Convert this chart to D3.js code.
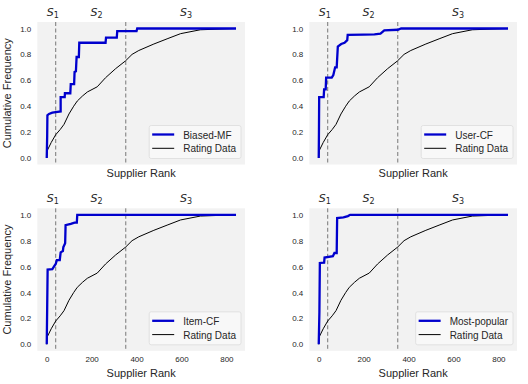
<!DOCTYPE html>
<html lang="en">
<head>
<meta charset="UTF-8">
<title>Supplier rank CDF</title>
<script src="https://d3js.org/d3.v7.min.js"></script>
<style>
  body { margin: 0; background: #fff; }
  svg { display: block; font-family: "Liberation Sans", Arial, sans-serif; }
</style>
</head>
<body>
<svg id="chart" width="528" height="384"></svg>
<script>
// rating data cdf (same in every panel)
var ratingData = [[0,0],[3,0.06],[20,0.12],[40,0.18],[60,0.22],[77,0.26],[99,0.34],[120,0.4],[136,0.44],
  [160,0.48],[181,0.51],[225,0.55],[262,0.62],[307,0.69],[351,0.75],[380,0.8],[410,0.83],[477,0.88],
  [536,0.92],[596,0.96],[684,0.99],[843,1.0]]

var biasedMF = [[0,0],[2,0.17],[3,0.33],[10,0.34],[25,0.35],[40,0.355],[62,0.36],[62,0.47],[80,0.47],
  [81,0.5],[105,0.5],[107,0.57],[122,0.57],[124,0.665],[130,0.67],[133,0.78],[143,0.78],[145,0.89],
  [262,0.89],[264,0.93],[312,0.93],[314,0.98],[400,0.98],[403,1.0],[843,1.0]]

var userCF = [[0,0],[1,0.2],[2,0.47],[22,0.47],[24,0.53],[31,0.53],[33,0.62],[58,0.62],[65,0.64],
  [73,0.7],[80,0.7],[85,0.86],[100,0.88],[115,0.89],[127,0.91],[129,0.95],[200,0.952],[248,0.955],
  [275,0.96],[292,0.985],[352,0.99],[367,1.0],[843,1.0]]

var itemCF = [[0,0],[2,0.28],[4,0.577],[25,0.58],[32,0.6],[40,0.62],[45,0.65],[58,0.65],[62,0.71],
  [72,0.72],[74,0.75],[82,0.78],[84,0.92],[107,0.93],[124,0.94],[134,0.94],[136,1.0],[843,1.0]]

var mostPopular = [[0,0],[3,0.25],[5,0.628],[24,0.63],[26,0.67],[63,0.68],[70,0.705],[80,0.705],
  [82,0.975],[110,0.98],[130,0.99],[140,1.0],[843,1.0]]

var panels = [
  {name: "Biased-MF", data: biasedMF, left: true, bottom: false},
  {name: "User-CF", data: userCF, left: false, bottom: false},
  {name: "Item-CF", data: itemCF, left: true, bottom: true},
  {name: "Most-popular", data: mostPopular, left: false, bottom: true}
]
var yTicks = [0, 0.2, 0.4, 0.6, 0.8, 1.0]
var xTicks = [0, 200, 400, 600, 800]
var segBounds = [40, 352]
var segLabels = [{x: 27, n: "1"}, {x: 222, n: "2"}, {x: 620, n: "3"}]

var W = 207.7, H = 142.5
var origins = [[37.3, 22], [309.3, 22], [37.3, 208.3], [309.3, 208.3]]
var textCol = "#262626"

var x = d3.scaleLinear().domain([-42, 883]).range([0, W])
var y = d3.scaleLinear().domain([-0.05, 1.05]).range([H, 0])
var line = d3.line().x(d => x(d[0])).y(d => y(d[1]))

var svg = d3.select("#chart")

panels.forEach(function(p, i) {
  var g = svg.append("g").attr("transform", `translate(${origins[i][0]},${origins[i][1]})`)
  g.append("rect").attr("width", W).attr("height", H).attr("fill", "#f2f2f2")

  // y axis
  var ya = g.append("g").call(d3.axisLeft(y).tickValues(yTicks).tickFormat(d3.format(".1f")).tickSize(0).tickPadding(6))
  ya.select(".domain").remove()
  ya.selectAll("text").attr("font-size", 8).attr("fill", textCol).attr("font-family", "Liberation Sans, Arial, sans-serif")

  if (p.bottom) {
    var xa = g.append("g").attr("transform", `translate(0,${H})`)
      .call(d3.axisBottom(x).tickValues(xTicks).tickSize(0).tickPadding(6))
    xa.select(".domain").remove()
    xa.selectAll("text").attr("font-size", 8).attr("fill", textCol).attr("font-family", "Liberation Sans, Arial, sans-serif")
  }

  g.append("text").attr("x", W / 2).attr("y", H + (p.bottom ? 26 : 12))
    .attr("text-anchor", "middle").attr("font-size", 11).attr("fill", textCol).text("Supplier Rank")

  if (p.left) {
    g.append("text").attr("transform", `translate(-26,${H / 2}) rotate(-90)`)
      .attr("text-anchor", "middle").attr("font-size", 11).attr("fill", textCol).text("Cumulative Frequency")
  }

  // segment boundaries
  g.selectAll(".seg").data(segBounds).join("line")
    .attr("x1", d => x(d)).attr("x2", d => x(d)).attr("y1", 0).attr("y2", H)
    .attr("stroke", "#777").attr("stroke-width", 1).attr("stroke-dasharray", "4,2.5")

  var sl = g.selectAll(".slab").data(segLabels).join("text")
    .attr("x", d => x(d.x)).attr("y", -6).attr("text-anchor", "middle")
    .attr("font-family", "DejaVu Sans, sans-serif").attr("font-size", 11).attr("fill", textCol)
  sl.append("tspan").attr("font-style", "italic").text("S")
  sl.append("tspan").attr("font-size", 8).attr("dy", 2).text(d => d.n)

  g.append("path").datum(ratingData).attr("d", line).attr("fill", "none")
    .attr("stroke", "#000").attr("stroke-width", 1)
  g.append("path").datum(p.data).attr("d", line).attr("fill", "none")
    .attr("stroke", "#0000cd").attr("stroke-width", 2.3).attr("stroke-linejoin", "miter")

  // legend
  var items = [{label: p.name, color: "#0000cd", w: 2.3}, {label: "Rating Data", color: "#000", w: 1}]
  var lg = g.append("g")
  var txts = lg.selectAll("text").data(items).join("text")
    .attr("x", 34).attr("y", (d, j) => 13.3 + j * 13.5).attr("font-size", 10).attr("fill", textCol)
    .text(d => d.label)
  var tw = d3.max(txts.nodes(), n => n.getComputedTextLength())
  var lw = 34 + tw + 5, lh = 33
  lg.insert("rect", "text").attr("width", lw).attr("height", lh).attr("rx", 2)
    .attr("fill", "#f8f8f8").attr("stroke", "#dcdcdc").attr("stroke-width", 0.8)
  lg.selectAll("line").data(items).join("line")
    .attr("x1", 3).attr("x2", 25).attr("y1", (d, j) => 9 + j * 13.8).attr("y2", (d, j) => 9 + j * 13.8)
    .attr("stroke", d => d.color).attr("stroke-width", d => d.w)
  lg.attr("transform", `translate(${W - 4 - lw},${H - 6 - lh})`)
})
</script>
</body>
</html>
